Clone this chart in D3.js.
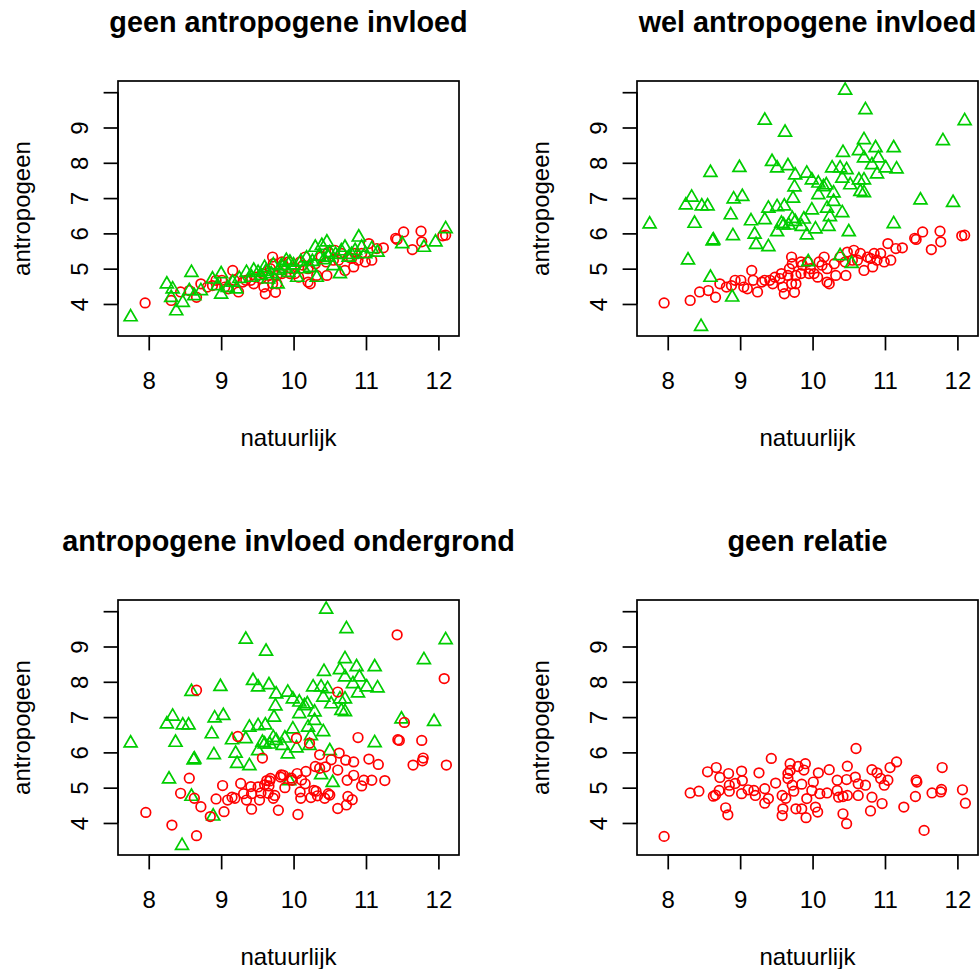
<!DOCTYPE html>
<html>
<head>
<meta charset="utf-8">
<script src="https://cdn.jsdelivr.net/npm/d3@7"></script>
<style>
  html, body { margin: 0; padding: 0; background: #fff; }
  svg text { font-family: "Liberation Sans", Arial, Helvetica, sans-serif; fill: #000; }
</style>
</head>
<body>
<svg id="chart" width="980" height="969"></svg>
<script>
// Natural relation (red circles), shared by the first two panels: [natuurlijk, antropogeen]
const roodNatuurlijk = [
  [7.95,4.03],[8.31,4.10],[8.44,4.34],[8.56,4.38],[8.66,4.19],[8.72,4.57],[8.81,4.48],[8.88,4.52],
  [8.93,4.67],[9.01,4.67],[9.05,4.48],[9.10,4.43],[9.16,4.95],[9.18,4.67],[9.24,4.34],[9.30,4.62],
  [9.34,4.67],[9.41,4.67],[9.45,4.57],[9.48,4.76],[9.55,4.72],[9.57,4.86],[9.59,4.48],[9.61,4.29],
  [9.66,4.81],[9.71,5.33],[9.68,5.00],[9.71,4.57],[9.72,5.14],[9.77,4.81],[9.77,4.57],[9.75,4.33],
  [9.84,5.19],[9.84,4.86],[9.86,5.10],[9.93,5.19],[9.95,4.86],[9.97,5.00],[10.02,4.86],[10.07,4.76],
  [10.09,5.19],[10.13,5.10],[10.16,5.33],[10.20,5.00],[10.20,4.62],[10.23,4.57],[10.30,5.14],[10.32,4.81],
  [10.38,5.33],[10.45,5.19],[10.46,4.81],[10.48,5.47],[10.55,5.24],[10.57,5.52],[10.62,5.24],[10.66,5.43],
  [10.71,4.95],[10.76,5.33],[10.80,5.29],[10.83,5.05],[10.85,5.43],[10.89,5.24],[10.94,5.43],[10.99,5.19],
  [11.04,5.71],[11.08,5.24],[11.15,5.57],[11.24,5.59],[11.41,5.86],[11.43,5.83],[11.52,6.04],[11.64,5.54],
  [11.76,6.06],[11.77,5.76],[12.06,5.93],[12.10,5.95]
];

// Green triangles without anthropogenic influence (first panel)
const groenGeen = [
  [7.75,3.63],[8.25,4.56],[8.31,4.18],[8.33,4.42],[8.38,3.80],[8.47,4.04],[8.56,4.37],[8.59,4.89],
  [8.63,4.23],[8.72,4.37],[8.88,4.70],[8.95,4.51],[9.00,4.85],[9.00,4.27],[9.09,4.46],[9.16,4.61],
  [9.21,4.42],[9.25,4.72],[9.35,4.89],[9.42,4.75],[9.45,4.95],[9.51,4.89],[9.55,4.80],[9.60,5.03],
  [9.62,4.92],[9.65,4.70],[9.69,4.85],[9.72,5.10],[9.78,4.56],[9.80,4.95],[9.83,5.08],[9.88,5.00],
  [9.90,5.23],[9.93,4.89],[9.95,5.18],[10.00,5.10],[10.05,4.75],[10.10,5.20],[10.14,4.99],[10.18,5.30],
  [10.23,5.03],[10.26,5.20],[10.30,5.60],[10.32,4.75],[10.35,5.35],[10.39,5.65],[10.42,5.25],[10.46,5.75],
  [10.48,5.32],[10.50,5.45],[10.55,5.08],[10.58,5.40],[10.64,4.85],[10.66,5.50],[10.71,5.60],[10.76,5.32],
  [10.80,5.40],[10.85,5.51],[10.90,5.89],[10.94,5.60],[10.99,5.42],[11.08,5.56],[11.16,5.46],[11.50,5.70],
  [11.80,5.60],[11.96,5.75],[12.10,6.13]
];

// Green triangles with anthropogenic influence (second and third panel)
const groenWel = [
  [7.75,6.26],[8.25,6.80],[8.28,5.24],[8.33,7.02],[8.37,6.28],[8.46,3.36],[8.47,6.77],[8.55,6.77],
  [8.59,7.72],[8.59,4.75],[8.62,5.78],[8.63,5.81],[8.87,6.52],[8.89,4.19],[8.90,5.93],[8.91,6.97],
  [8.99,7.86],[9.03,7.04],[9.15,6.35],[9.20,5.97],[9.22,5.68],[9.34,9.20],[9.34,6.38],[9.39,6.71],
  [9.39,5.62],[9.44,8.03],[9.51,7.85],[9.51,6.75],[9.51,6.04],[9.57,6.28],[9.60,6.23],[9.61,6.77],
  [9.62,8.86],[9.66,7.91],[9.67,6.23],[9.72,6.42],[9.73,6.99],[9.75,7.31],[9.76,7.65],[9.76,6.33],
  [9.85,6.19],[9.88,6.40],[9.92,7.70],[9.92,5.95],[9.94,5.19],[9.99,7.51],[9.99,6.66],[10.04,6.12],
  [10.08,7.42],[10.08,7.09],[10.15,7.32],[10.19,7.37],[10.20,6.71],[10.22,6.19],[10.24,6.47],[10.27,7.85],
  [10.29,7.14],[10.29,6.90],[10.38,7.85],[10.38,5.36],[10.41,7.56],[10.41,6.58],[10.42,8.29],[10.45,10.05],
  [10.47,7.80],[10.50,6.04],[10.52,7.37],[10.54,5.14],[10.64,8.34],[10.64,7.51],[10.66,7.18],[10.71,8.65],
  [10.71,8.13],[10.71,7.51],[10.71,7.15],[10.73,9.50],[10.82,7.94],[10.87,8.42],[10.89,7.68],[10.91,8.13],
  [11.01,7.85],[11.12,8.42],[11.12,6.27],[11.16,7.82],[11.49,6.94],[11.80,8.62],[11.94,6.87],[12.10,9.19]
];

// Red circles with anthropogenic influence in the subsoil (third panel)
const roodOndergrond = [
  [7.96,4.30],[8.32,3.94],[8.44,4.84],[8.56,5.27],[8.63,4.70],[8.66,7.76],[8.66,3.64],[8.72,4.46],
  [8.85,4.18],[8.93,4.68],[9.02,5.06],[9.04,4.32],[9.09,4.65],[9.15,4.73],[9.19,4.70],[9.23,6.45],
  [9.27,5.12],[9.31,4.83],[9.35,4.65],[9.41,5.03],[9.42,4.39],[9.42,4.83],[9.51,5.02],[9.53,4.65],
  [9.55,4.85],[9.57,5.84],[9.60,5.08],[9.63,5.20],[9.65,4.84],[9.66,5.05],[9.67,5.19],[9.68,5.26],
  [9.72,4.70],[9.74,4.78],[9.79,4.36],[9.82,5.30],[9.83,5.36],[9.86,5.35],[9.88,5.00],[9.97,5.27],
  [9.98,5.21],[10.04,6.40],[10.06,4.24],[10.05,5.40],[10.09,4.88],[10.10,4.70],[10.11,5.22],[10.16,5.11],
  [10.17,5.46],[10.22,6.26],[10.24,4.72],[10.28,4.92],[10.30,5.60],[10.31,4.90],[10.33,4.77],[10.36,5.93],
  [10.36,5.55],[10.43,4.70],[10.44,5.59],[10.48,4.83],[10.50,4.79],[10.52,5.79],[10.61,7.71],[10.61,5.50],
  [10.61,4.41],[10.63,5.98],[10.72,5.78],[10.73,4.51],[10.74,5.21],[10.75,4.75],[10.81,4.66],[10.83,5.73],
  [10.83,5.35],[10.89,6.42],[10.94,5.05],[10.97,5.21],[11.04,5.81],[11.08,5.21],[11.17,5.66],[11.26,5.20],
  [11.43,9.33],[11.44,6.36],[11.46,6.34],[11.53,6.85],[11.65,5.64],[11.77,6.34],[11.78,5.76],[11.79,5.84],
  [12.08,8.09],[12.11,5.64]
];

// Red circles without any relation (fourth panel)
const roodGeenRelatie = [
  [7.95,3.62],[8.31,4.85],[8.43,4.90],[8.55,5.45],[8.63,4.76],[8.66,4.79],[8.67,5.57],[8.71,4.92],
  [8.72,5.29],[8.80,4.43],[8.83,4.23],[8.84,5.40],[8.85,5.07],[8.85,4.90],[8.93,5.12],[9.02,5.47],
  [9.02,4.83],[9.03,5.20],[9.11,4.94],[9.19,4.92],[9.21,4.78],[9.26,5.42],[9.34,4.97],[9.34,4.56],
  [9.39,4.69],[9.43,5.83],[9.49,5.13],[9.58,4.78],[9.59,4.40],[9.58,4.21],[9.63,4.70],[9.66,5.26],
  [9.66,5.40],[9.69,5.49],[9.69,5.68],[9.72,5.07],[9.74,4.90],[9.77,4.40],[9.80,5.60],[9.85,5.10],
  [9.85,4.40],[9.88,5.50],[9.90,5.68],[9.91,4.15],[9.92,4.69],[9.99,4.92],[10.01,5.16],[10.04,4.45],
  [10.07,4.31],[10.08,5.42],[10.10,4.83],[10.20,4.85],[10.23,5.51],[10.34,5.21],[10.34,4.92],[10.36,4.73],
  [10.42,4.75],[10.42,4.26],[10.47,5.23],[10.47,3.98],[10.48,5.61],[10.48,4.78],[10.59,5.30],[10.60,6.11],
  [10.63,5.11],[10.63,4.78],[10.73,5.07],[10.80,4.34],[10.82,5.51],[10.82,4.73],[10.89,5.42],[10.94,5.26],
  [10.96,4.55],[10.99,5.07],[11.04,5.21],[11.07,5.57],[11.16,5.73],[11.26,4.45],[11.42,4.75],[11.43,5.21],
  [11.44,5.16],[11.54,3.79],[11.65,4.85],[11.77,4.88],[11.78,4.95],[11.79,5.57],[12.07,4.94],[12.11,4.56]
];

const xTicks = [8, 9, 10, 11, 12];
const yTicks = [4, 5, 6, 7, 8, 9, 10];
const yTickLabels = ["4", "5", "6", "7", "8", "9", ""];
const titles = [
  "geen antropogene invloed",
  "wel antropogene invloed",
  "antropogene invloed ondergrond",
  "geen relatie"
];
const xLabel = "natuurlijk";
const yLabel = "antropogeen";

const ROOD = "#ff0000";
const GROEN = "#00cd00";

// Each panel lists its layers in drawing order
const panels = [
  { title: titles[0], col: 0, row: 0, layers: [
      { data: roodNatuurlijk, shape: "circle", color: ROOD },
      { data: groenGeen, shape: "triangle", color: GROEN } ] },
  { title: titles[1], col: 1, row: 0, layers: [
      { data: roodNatuurlijk, shape: "circle", color: ROOD },
      { data: groenWel, shape: "triangle", color: GROEN } ] },
  { title: titles[2], col: 0, row: 1, layers: [
      { data: groenWel, shape: "triangle", color: GROEN },
      { data: roodOndergrond, shape: "circle", color: ROOD } ] },
  { title: titles[3], col: 1, row: 1, layers: [
      { data: roodGeenRelatie, shape: "circle", color: ROOD } ] }
];

// Shared limits over all series, padded 4% on each side
const allPoints = [].concat(roodNatuurlijk, groenGeen, groenWel, roodOndergrond, roodGeenRelatie);
function padded(ext) { const d = (ext[1] - ext[0]) * 0.04; return [ext[0] - d, ext[1] + d]; }
const xDomain = padded(d3.extent(allPoints, p => p[0]));
const yDomain = padded(d3.extent(allPoints, p => p[1]));

const cell = 519;
const plot = { left: 118, top: 81, width: 341, height: 255 };
const fontSize = 24;
const lineH = 28.8;
const tickLen = 14.4;
const sym = 4.8;           // symbol radius
const lw = 1.7;            // line width
const triR = 1.5551 * sym; // triangle circumradius

const svg = d3.select("#chart");

const triPath = (() => {
  const xc = triR * Math.sqrt(3) / 2, yc = triR / 2;
  return `M0,${-triR}L${xc},${yc}L${-xc},${yc}Z`;
})();

panels.forEach(p => {
  const ox = plot.left + p.col * cell;
  const oy = plot.top + p.row * cell;
  const x = d3.scaleLinear().domain(xDomain).range([0, plot.width]);
  const y = d3.scaleLinear().domain(yDomain).range([plot.height, 0]);

  const g = svg.append("g").attr("transform", `translate(${ox},${oy})`);

  // points
  const pg = g.append("g");
  p.layers.forEach(layer => {
    if (layer.shape === "circle") {
      pg.selectAll(null).data(layer.data).enter().append("circle")
        .attr("cx", d => x(d[0])).attr("cy", d => y(d[1])).attr("r", sym)
        .attr("fill", "none").attr("stroke", layer.color).attr("stroke-width", lw);
    } else {
      pg.selectAll(null).data(layer.data).enter().append("path")
        .attr("d", triPath)
        .attr("transform", d => `translate(${x(d[0])},${y(d[1])})`)
        .attr("fill", "none").attr("stroke", layer.color).attr("stroke-width", lw)
        .attr("stroke-linejoin", "miter");
    }
  });

  // box
  g.append("rect").attr("x", 0).attr("y", 0).attr("width", plot.width).attr("height", plot.height)
    .attr("fill", "none").attr("stroke", "#000").attr("stroke-width", lw);

  // x axis
  const xAxis = d3.axisBottom(x).tickValues(xTicks).tickSize(tickLen).tickPadding(0).tickFormat(d3.format("d"));
  const xa = g.append("g").attr("transform", `translate(0,${plot.height})`).call(xAxis);
  xa.select(".domain").attr("stroke-width", lw).attr("d", `M${x(xTicks[0])},0H${x(xTicks[xTicks.length - 1])}`);
  xa.selectAll(".tick line").attr("stroke-width", lw);
  xa.selectAll(".tick text")
    .attr("y", 52.6).attr("dy", null)
    .style("font-size", fontSize + "px")
    .style("font-family", '"Liberation Sans", Arial, Helvetica, sans-serif');

  // y axis
  const yAxis = d3.axisLeft(y).tickValues(yTicks).tickSize(tickLen).tickPadding(0)
    .tickFormat((d, i) => yTickLabels[i]);
  const ya = g.append("g").call(yAxis);
  ya.select(".domain").attr("stroke-width", lw).attr("d", `M0,${y(yTicks[0])}V${y(yTicks[yTicks.length - 1])}`);
  ya.selectAll(".tick line").attr("stroke-width", lw);
  ya.selectAll(".tick text")
    .attr("x", null).attr("dy", null)
    .attr("text-anchor", "middle")
    .attr("transform", "translate(-30,0) rotate(-90)")
    .style("font-size", fontSize + "px")
    .style("font-family", '"Liberation Sans", Arial, Helvetica, sans-serif');
  xa.attr("font-size", null).attr("font-family", null);
  ya.attr("font-size", null).attr("font-family", null);

  // axis titles
  g.append("text").attr("x", plot.width / 2).attr("y", plot.height + 52.6 + 2 * lineH)
    .attr("text-anchor", "middle").style("font-size", fontSize + "px").text(xLabel);
  g.append("text")
    .attr("transform", `translate(${-30 - 2 * lineH},${plot.height / 2}) rotate(-90)`)
    .attr("text-anchor", "middle").style("font-size", fontSize + "px").text(yLabel);

  // panel title
  g.append("text").attr("x", plot.width / 2).attr("y", -49)
    .attr("text-anchor", "middle").style("font-size", (fontSize * 1.2) + "px")
    .style("font-weight", "bold").text(p.title);
});
</script>
</body>
</html>
